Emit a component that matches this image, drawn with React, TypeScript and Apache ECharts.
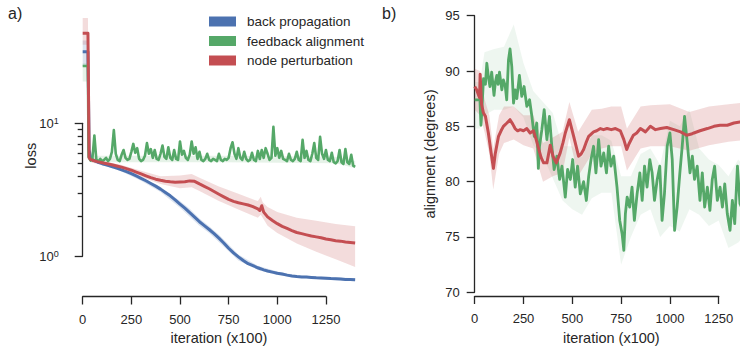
import React, { useEffect, useRef } from 'react';
import * as echarts from 'echarts';

// ---------------- panel a) loss (log scale) ----------------
const lossIter = [
  0, 27, 33, 40, 50, 75, 100, 125, 150, 175,
  200, 225, 250, 275, 300, 325, 350, 375, 400, 425,
  450, 475, 500, 525, 550, 575, 600, 625, 650, 675,
  700, 725, 750, 775, 800, 825, 850, 875, 900, 910,
  920, 930, 950, 975, 1000, 1025, 1050, 1075, 1100, 1125,
  1150, 1175, 1200, 1225, 1250, 1275, 1300, 1325, 1350, 1375,
  1400,
];
const bpLoss = [
  34.5, 34.5, 6.3, 5.6, 5.3, 5.12, 4.97, 4.85, 4.73, 4.6,
  4.47, 4.33, 4.18, 4.02, 3.86, 3.7, 3.53, 3.37, 3.2, 3.02,
  2.85, 2.66, 2.47, 2.3, 2.13, 1.97, 1.82, 1.7, 1.59, 1.48,
  1.37, 1.26, 1.15, 1.06, 0.99, 0.93, 0.88, 0.85, 0.82, 0.81,
  0.8, 0.79, 0.775, 0.76, 0.745, 0.735, 0.722, 0.712, 0.705, 0.7,
  0.698, 0.694, 0.69, 0.688, 0.684, 0.68, 0.678, 0.674, 0.67, 0.668,
  0.665,
];
const npLoss = [
  47.5, 47.5, 5.5, 5.35, 5.28, 5.15, 5.05, 4.96, 4.88, 4.78,
  4.68, 4.56, 4.44, 4.3, 4.16, 4.03, 3.9, 3.8, 3.73, 3.67,
  3.63, 3.61, 3.62, 3.63, 3.69, 3.66, 3.5, 3.36, 3.22, 3.07,
  2.93, 2.8, 2.68, 2.59, 2.53, 2.48, 2.43, 2.36, 2.27, 2.21,
  2.4, 2.15, 1.98, 1.86, 1.76, 1.68, 1.62, 1.56, 1.51, 1.48,
  1.45, 1.42, 1.4, 1.38, 1.35, 1.33, 1.31, 1.3, 1.28, 1.27,
  1.26,
];
const faIterA = [
  0, 27,
  30, 40, 50, 60, 70, 80, 90, 100, 110, 120,
  130, 140, 150, 160, 170, 180, 190, 200, 210, 220,
  230, 240, 250, 260, 270, 280, 290, 300, 310, 320,
  330, 340, 350, 360, 370, 380, 390, 400, 410, 420,
  430, 440, 450, 460, 470, 480, 490, 500, 510, 520,
  530, 540, 550, 560, 570, 580, 590, 600, 610, 620,
  630, 640, 650, 660, 670, 680, 690, 700, 710, 720,
  730, 740, 750, 760, 770, 780, 790, 800, 810, 820,
  830, 840, 850, 860, 870, 880, 890, 900, 910, 920,
  930, 940, 950, 960, 970, 980, 990, 1000, 1010, 1020,
  1030, 1040, 1050, 1060, 1070, 1080, 1090, 1100, 1110, 1120,
  1130, 1140, 1150, 1160, 1170, 1180, 1190, 1200, 1210, 1220,
  1230, 1240, 1250, 1260, 1270, 1280, 1290, 1300, 1310, 1320,
  1330, 1340, 1350, 1360, 1370, 1380, 1390, 1400,
];
const faLoss = [
  27, 27,
  5.6, 5.25, 5.45, 8.1, 5.35, 5.15, 5.4, 5.2, 5.3, 5.5,
  5.2, 5.4, 6.1, 8.9, 5.9, 5.3, 5.2, 5.8, 6.3, 5.5,
  5.3, 5.4, 6.1, 7.0, 6.0, 6.5, 5.4, 5.2, 5.3, 5.7,
  7.1, 5.9, 6.4, 5.5, 6.3, 5.4, 5.3, 5.9, 6.8, 5.6,
  5.4, 6.6, 5.5, 5.3, 6.3, 5.4, 5.3, 7.3, 5.8, 6.2,
  5.5, 5.3, 5.8, 7.3, 5.9, 6.6, 5.4, 6.1, 5.3, 5.2,
  5.4, 5.9, 5.3, 5.2, 5.4, 5.3, 5.2, 5.9, 5.3, 5.2,
  5.4, 5.3, 5.5, 6.5, 7.2, 5.9, 5.4, 6.5, 5.5, 5.3,
  6.1, 5.4, 5.2, 5.3, 6.0, 5.3, 5.2, 6.2, 5.4, 6.3,
  5.5, 6.5, 5.9, 5.3, 5.5, 9.4, 5.7, 6.5, 5.5, 6.2,
  5.4, 5.3, 5.2, 5.9, 5.3, 5.2, 5.4, 6.1, 5.3, 5.2,
  7.5, 5.5, 6.2, 5.3, 5.2, 5.9, 7.1, 5.5, 5.3, 7.9,
  5.9, 5.4, 6.3, 5.3, 5.2, 6.0, 5.1, 5.0, 5.2, 6.3,
  5.1, 4.95, 6.4, 5.1, 4.95, 5.8, 4.8, 4.7,
];
// spread bands (lower / upper) of panel a
const npBandAX = [0, 27, 33, 50, 100, 200, 300, 400, 500, 560, 600, 700, 800, 900, 915, 925, 950, 1000, 1100, 1200, 1300, 1400];
const npBandALo = [39, 39, 5.2, 5.05, 4.85, 4.45, 3.95, 3.5, 3.25, 3.3, 3.1, 2.6, 2.25, 1.95, 2.05, 1.95, 1.7, 1.5, 1.25, 1.08, 0.95, 0.83];
const npBandAHi = [62, 62, 5.8, 5.5, 5.2, 4.85, 4.4, 4.0, 4.05, 4.15, 3.9, 3.35, 2.95, 2.6, 2.8, 2.55, 2.35, 2.15, 1.95, 1.85, 1.75, 1.68];
const bpBandAX = [0, 27, 33, 50, 100, 200, 300, 400, 500, 550, 600, 650, 700, 800, 900, 1000, 1100, 1200, 1300, 1400];
const bpBandALo = [27, 27, 5.6, 5.2, 4.85, 4.35, 3.7, 3.05, 2.32, 1.98, 1.7, 1.5, 1.28, 0.93, 0.79, 0.725, 0.69, 0.675, 0.66, 0.65];
const bpBandAHi = [42, 42, 6.6, 5.5, 5.05, 4.55, 3.95, 3.32, 2.6, 2.28, 1.92, 1.68, 1.45, 1.03, 0.85, 0.77, 0.72, 0.705, 0.695, 0.685];
const faBandAX = [0, 27, 30, 40, 700, 1300, 1400];
const faBandALo = [20.6, 20.6, 5.4, 5.1, 5.1, 5.0, 4.6];
const faBandAHi = [28.3, 28.3, 5.8, 5.7, 5.7, 5.6, 5.2];
const lossTicks = [1, 10];
const lossMinorTicks = [2, 3, 4, 5, 6, 7, 8, 9];

// ---------------- panel b) alignment (degrees) ----------------
const npIterB = [
  0, 10, 20, 25, 28, 35, 45, 55, 70, 85,
  96, 105, 122, 135, 147, 165, 181, 195, 207, 220,
  233, 250, 267, 284, 301, 315, 327, 340, 353, 370,
  387, 401, 418, 438, 452, 464, 485, 507, 532, 545,
  558, 570, 584, 609, 625, 644, 660, 678, 700, 721,
  746, 764, 779, 790, 813, 830, 849, 875, 900, 926,
  952, 984, 1020, 1055, 1086, 1110, 1123, 1154, 1192, 1226,
  1257, 1294, 1328, 1359, 1400,
];
const npAlign = [
  88.6, 88.3, 87.8, 87.6, 89.7, 87.0, 86.2, 85.9, 84.4, 82.5,
  81.2, 82.5, 84.1, 84.6, 85.0, 85.3, 85.6, 85.2, 84.8, 84.6,
  84.7, 84.6, 84.8, 84.4, 84.6, 83.8, 83.0, 82.2, 81.7, 81.7,
  83.3, 82.3, 81.7, 82.6, 83.5, 84.4, 85.6, 84.1, 82.3, 82.5,
  82.9, 83.5, 84.1, 84.5, 84.6, 84.8, 84.7, 84.8, 84.7, 84.8,
  84.6, 83.8, 82.9, 83.4, 84.2, 84.4, 84.8, 84.5, 85.0, 84.7,
  84.8, 84.9, 84.7, 84.5, 84.2, 84.3, 84.4, 84.6, 84.8, 85.0,
  85.1, 85.1, 85.3, 85.4, 85.4,
];
const faIterB = [
  0, 20, 27, 32, 36, 45, 55, 62, 70, 78,
  87, 99, 106, 113, 120, 127, 139, 147, 156, 164,
  173, 181, 190, 199, 207, 216, 229, 241, 253, 267,
  281, 293, 305, 318, 326, 332, 344, 356, 370, 383,
  395, 407, 421, 435, 447, 464, 476, 490, 502, 515,
  527, 541, 558, 572, 584, 596, 609, 621, 635, 647,
  661, 675, 686, 698, 712, 729, 743, 755, 764, 772,
  781, 794, 806, 818, 832, 846, 858, 870, 883, 897,
  909, 921, 935, 948, 960, 972, 986, 1000, 1012, 1024,
  1037, 1051, 1063, 1075, 1089, 1103, 1115, 1126, 1140, 1154,
  1166, 1178, 1192, 1205, 1217, 1229, 1243, 1257, 1269, 1281,
  1294, 1308, 1320, 1332, 1346, 1359, 1372, 1386, 1400,
];
const faAlign = [
  87.4, 87.4, 87.3, 85.1, 86.2, 89.3, 88.8, 90.7, 89.5, 88.6,
  89.9, 87.8, 89.0, 89.6, 88.8, 89.9, 88.3, 89.2, 88.7, 87.4,
  91.0, 92.0, 90.4, 87.1, 88.3, 87.5, 89.6, 87.7, 88.6, 86.8,
  87.4, 85.9, 84.1, 85.3, 81.2, 83.2, 84.7, 86.5, 83.8, 85.9,
  83.2, 81.1, 82.3, 80.2, 81.4, 78.6, 81.1, 80.2, 82.0, 79.5,
  81.4, 78.9, 80.0, 78.3, 80.5, 82.0, 83.2, 80.8, 83.8, 81.4,
  82.6, 80.8, 83.2, 81.4, 82.3, 79.5, 76.5, 75.3, 73.8, 77.1,
  78.6, 77.7, 79.5, 76.5, 78.9, 80.8, 78.3, 81.4, 79.5, 82.0,
  80.8, 78.3, 80.2, 81.4, 76.5, 78.9, 83.2, 84.4, 82.0, 75.6,
  77.7, 80.8, 83.2, 85.9, 83.5, 80.8, 82.3, 80.2, 81.4, 78.3,
  80.8, 77.7, 79.5, 77.4, 80.2, 81.4, 78.3, 79.5, 77.7, 79.8,
  77.1, 75.6, 78.3, 76.2, 81.4, 78.0, 77.5, 76.5, 77.0,
];
const faBandBX = [0, 27, 50, 100, 150, 200, 250, 300, 350, 400, 450, 500, 550, 600, 650, 700, 750, 800, 850, 900, 950, 1000, 1050, 1100, 1150, 1200, 1250, 1300, 1350, 1400];
const faBandBLo = [84.8, 84.8, 86.0, 86.5, 86.5, 86.8, 85.8, 83.3, 82.3, 80.3, 78.3, 77.5, 77.0, 78.5, 79.0, 79.0, 72.5, 75.0, 77.0, 77.5, 75.0, 76.0, 75.5, 77.5, 77.0, 76.0, 76.5, 74.0, 74.5, 75.5];
const faBandBHi = [89.0, 89.0, 91.7, 92.0, 92.2, 94.2, 90.7, 88.2, 87.2, 86.2, 83.2, 83.2, 82.2, 84.2, 84.2, 83.7, 80.5, 80.5, 82.5, 83.0, 81.5, 85.5, 85.0, 86.5, 83.0, 82.0, 81.5, 80.5, 82.0, 81.0];
const npBandBX = [0, 27, 50, 75, 95, 125, 150, 200, 250, 300, 350, 400, 450, 485, 530, 600, 650, 700, 750, 780, 850, 900, 1000, 1100, 1200, 1300, 1400];
const npBandBLo = [86.5, 86.0, 84.5, 82.5, 79.3, 82.5, 83.5, 83.8, 83.3, 83.0, 80.0, 80.5, 80.8, 84.0, 80.5, 82.5, 83.0, 83.2, 83.2, 81.0, 83.0, 83.2, 83.2, 82.8, 83.3, 83.6, 83.8];
const npBandBHi = [90.2, 90.0, 87.5, 86.0, 83.0, 86.0, 86.8, 86.8, 86.0, 86.0, 83.5, 84.0, 84.5, 87.2, 84.5, 86.5, 86.6, 86.8, 86.8, 84.8, 86.8, 86.9, 87.0, 86.3, 86.8, 87.0, 87.2];

const seriesNames = ['back propagation', 'feedback alignment', 'node perturbation'];
const COLORS = ['#4C72B0', '#55A868', '#C44E52'];

// ---------------- styling / layout ----------------
const FONT = '"Liberation Sans", Arial, Helvetica, sans-serif';
const INK = '#262626';

const zip = (xs: number[], ys: number[]) => xs.map((x, i) => [x, ys[i]]);

function band(name: string, xs: number[], lo: number[], hi: number[], color: string, opacity: number, xi: number, yi: number) {
  return {
    type: 'custom',
    name,
    xAxisIndex: xi,
    yAxisIndex: yi,
    silent: true,
    z: 1,
    clip: true,
    data: [[xs[0], lo[0]]],
    renderItem: (_p: any, api: any) => {
      const pts: number[][] = [];
      for (let i = 0; i < xs.length; i++) pts.push(api.coord([xs[i], hi[i]]));
      for (let i = xs.length - 1; i >= 0; i--) pts.push(api.coord([xs[i], lo[i]]));
      return { type: 'polygon', shape: { points: pts }, style: { fill: color, opacity } };
    },
  };
}

function line(name: string, xs: number[], ys: number[], color: string, width: number, xi: number, yi: number) {
  return {
    type: 'line',
    name,
    xAxisIndex: xi,
    yAxisIndex: yi,
    data: zip(xs, ys),
    symbol: 'none',
    showSymbol: false,
    clip: true,
    z: 3,
    color,
    itemStyle: { color },
    lineStyle: { color, width, join: 'round' },
  };
}

const hiddenAxisBase = {
  axisLine: { show: false },
  axisTick: { show: false },
  axisLabel: { show: false },
  splitLine: { show: false },
};
const spine = { show: true, lineStyle: { color: INK, width: 1.3 } };
const tick = (len: number) => ({ show: true, length: len, lineStyle: { color: INK, width: 1.3 } });
const tickLabel = (margin: number) => ({
  color: INK, fontSize: 13, fontFamily: FONT, margin,
  formatter: (v: number) => String(v),
});
const nameStyle = { color: INK, fontSize: 14.5, fontFamily: FONT };

// panel geometry (pixels)
const A_LEFT = 82.7, A_PX = 0.1946, A_Y10 = 123.3, A_DEC = 133, A_AXIS_Y = 296.5;
const B_LEFT = 474.7, B_PX = 0.1952, B_TOP = 15.7, B_H = 276.6, B_AXIS_Y = 296;
const A_MIN = 0.5, A_MAX = 65;
const A_Y1 = A_Y10 + A_DEC;
const A_TOP = A_Y1 - A_DEC * Math.log10(A_MAX);
const A_BOT = A_Y1 - A_DEC * Math.log10(A_MIN);

const option: any = {
  animation: false,
  backgroundColor: '#ffffff',
  textStyle: { fontFamily: FONT },
  legend: {
    data: seriesNames,
    orient: 'vertical',
    left: 209,
    top: 14.5,
    padding: 0,
    itemWidth: 27,
    itemHeight: 10,
    itemGap: 5.5,
    icon: 'rect',
    selectedMode: false,
    textStyle: { color: INK, fontSize: 13.5, fontFamily: FONT, lineHeight: 14, padding: [0, 0, 0, 6] },
  },
  graphic: [
    { type: 'text', left: 8, top: 5, style: { text: 'a)', fontSize: 16, fill: INK, fontFamily: FONT } },
    { type: 'text', left: 382, top: 5, style: { text: 'b)', fontSize: 16, fill: INK, fontFamily: FONT } },
  ],
  grid: [
    { left: A_LEFT, top: A_TOP, width: 1400 * A_PX, height: A_BOT - A_TOP, outerBoundsMode: 'none', containLabel: false },
    { left: A_LEFT, top: A_Y10, width: 1250 * A_PX, height: A_DEC, outerBoundsMode: 'none', containLabel: false },
    { left: B_LEFT, top: B_TOP, width: 1400 * B_PX, height: B_H, outerBoundsMode: 'none', containLabel: false },
    { left: B_LEFT, top: B_TOP, width: 1250 * B_PX, height: B_H, outerBoundsMode: 'none', containLabel: false },
  ],
  xAxis: [
    {
      gridIndex: 0, type: 'value', min: 0, max: 1400, ...hiddenAxisBase,
      name: 'iteration (x100)', nameLocation: 'middle', nameGap: 34, nameTextStyle: nameStyle,
    },
    {
      gridIndex: 1, type: 'value', min: 0, max: 1250, interval: 250, offset: A_AXIS_Y - A_Y1,
      axisLine: spine, axisTick: tick(8), axisLabel: tickLabel(16), splitLine: { show: false },
    },
    {
      gridIndex: 2, type: 'value', min: 0, max: 1400, ...hiddenAxisBase,
      name: 'iteration (x100)', nameLocation: 'middle', nameGap: 38, nameTextStyle: nameStyle,
    },
    {
      gridIndex: 3, type: 'value', min: 0, max: 1250, interval: 250, offset: B_AXIS_Y - (B_TOP + B_H),
      axisLine: spine, axisTick: tick(8), axisLabel: tickLabel(16), splitLine: { show: false },
    },
  ],
  yAxis: [
    {
      gridIndex: 0, type: 'log', logBase: 10, min: A_MIN, max: A_MAX, ...hiddenAxisBase,
      name: 'loss', nameLocation: 'middle', nameGap: 44, nameTextStyle: nameStyle,
    },
    {
      gridIndex: 1, type: 'log', logBase: 10, min: 1, max: 10, position: 'left',
      axisLine: spine,
      axisTick: { ...tick(8), customValues: lossTicks },
      axisLabel: {
        color: INK, fontSize: 13, fontFamily: FONT, margin: 24,
        customValues: lossTicks,
        formatter: (v: number) => `{b|10}{s|${Math.round(Math.log10(v))}}`,
        rich: {
          b: { fontSize: 13, color: INK, fontFamily: FONT },
          s: { fontSize: 9, color: INK, fontFamily: FONT, padding: [0, 0, 5, 0] },
        },
      },
      splitLine: { show: false },
    },
    {
      gridIndex: 1, type: 'log', logBase: 10, min: 1, max: 10, position: 'left',
      axisLine: { show: false },
      axisTick: { ...tick(5), customValues: lossMinorTicks },
      axisLabel: { show: false },
      splitLine: { show: false },
    },
    {
      gridIndex: 2, type: 'value', min: 70, max: 95, interval: 5, ...hiddenAxisBase,
      name: 'alignment (degrees)', nameLocation: 'middle', nameGap: 37, nameTextStyle: nameStyle,
    },
    {
      gridIndex: 3, type: 'value', min: 70, max: 95, interval: 5, position: 'left',
      axisLine: spine, axisTick: tick(8), axisLabel: tickLabel(15), splitLine: { show: false },
    },
  ],
  series: [
    band('bp spread', bpBandAX, bpBandALo, bpBandAHi, COLORS[0], 0.2, 0, 0),
    band('fa spread', faBandAX, faBandALo, faBandAHi, COLORS[1], 0.15, 0, 0),
    band('np spread', npBandAX, npBandALo, npBandAHi, COLORS[2], 0.2, 0, 0),
    line(seriesNames[0], lossIter, bpLoss, COLORS[0], 3, 0, 0),
    line(seriesNames[1], faIterA, faLoss, COLORS[1], 2.6, 0, 0),
    line(seriesNames[2], lossIter, npLoss, COLORS[2], 3, 0, 0),
    band('fa spread b', faBandBX, faBandBLo, faBandBHi, COLORS[1], 0.1, 2, 3),
    band('np spread b', npBandBX, npBandBLo, npBandBHi, COLORS[2], 0.2, 2, 3),
    line(seriesNames[1], faIterB, faAlign, COLORS[1], 2.8, 2, 3),
    line(seriesNames[2], npIterB, npAlign, COLORS[2], 3, 2, 3),
  ],
};

export default function App() {
  const ref = useRef<HTMLDivElement>(null);
  useEffect(() => {
    if (!ref.current) return;
    const chart = echarts.init(ref.current, null, { renderer: 'svg' });
    chart.setOption(option);
    return () => chart.dispose();
  }, []);
  return (
    <div
      ref={ref}
      style={{ position: 'fixed', left: 0, top: 0, width: 740, height: 348, background: '#ffffff', overflow: 'hidden' }}
    />
  );
}
